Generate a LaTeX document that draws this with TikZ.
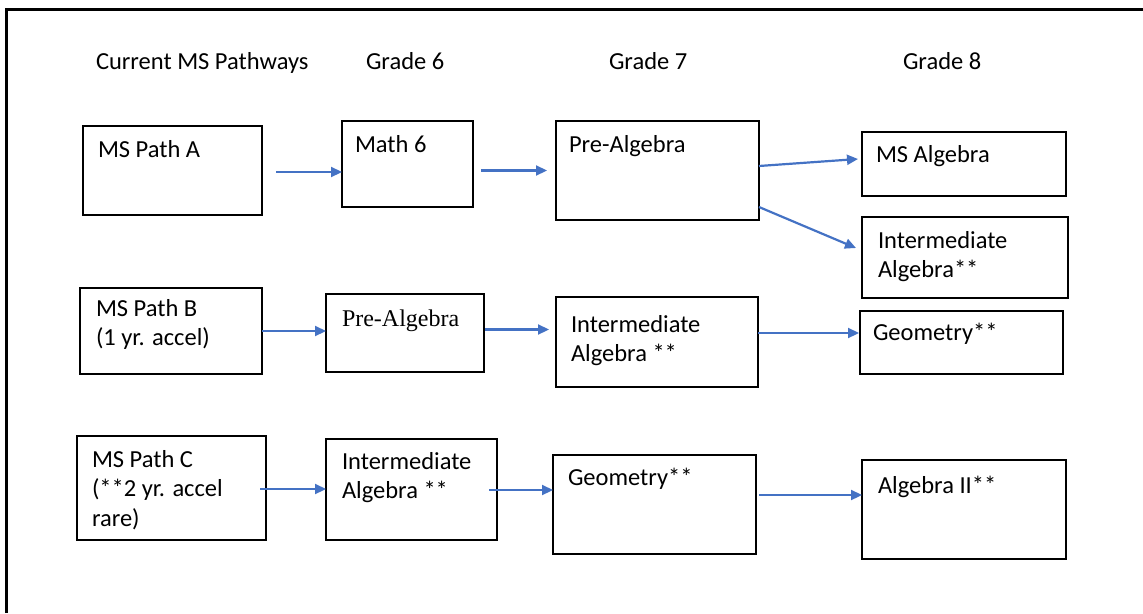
\documentclass[tikz,border=0pt]{standalone}
\usepackage{fontspec}
\setmainfont{Carlito}
\newfontfamily\timesf{Liberation Serif}
\usetikzlibrary{arrows.meta}
\definecolor{arrowblue}{RGB}{68,114,196}
\tikzset{
  box/.style={draw=black, line width=2pt, rectangle, inner sep=0pt, outer sep=0pt},
  txt/.style={anchor=base west, inner sep=0pt, outer sep=0pt, align=left,
    font=\fontsize{24.5}{29.5}\selectfont},
  arr/.style={draw=arrowblue, line width=2.2pt, -{Triangle[length=11pt,width=10pt]}},
  frame/.style={draw=black, line width=3pt}
}
\begin{document}
\begin{tikzpicture}[x=1pt,y=-1pt]
\useasboundingbox (0,0) rectangle (1143,613);
% frame
\coordinate (fb) at (6.5,613);
\coordinate (fc) at (6.5,9.5);
\coordinate (fr) at (1143,9.5);
\draw[frame] (fb) -- (fc) -- (fr);

% headers
\node[txt] (h0) at (96,69) {Current MS Pathways};
\node[txt] (h6) at (366,69) {Grade 6};
\node[txt] (h7) at (609,69) {Grade 7};
\node[txt] (h8) at (903,69) {Grade 8};

% boxes
\node[box, minimum width=179pt, minimum height=89pt] (pa) at (172.5,170.5) {};
\node[box, minimum width=131pt, minimum height=86pt] (m6) at (407.5,164) {};
\node[box, minimum width=203pt, minimum height=99pt] (pre7a) at (657.5,170.5) {};
\node[box, minimum width=204pt, minimum height=64pt] (msalg) at (964,164) {};
\node[box, minimum width=206pt, minimum height=81pt] (int8) at (965,257.5) {};

\node[box, minimum width=182pt, minimum height=86pt] (pb) at (171,331) {};
\node[box, minimum width=158pt, minimum height=78pt] (pre6b) at (405,333) {};
\node[box, minimum width=202pt, minimum height=90pt] (int7b) at (657,342) {};
\node[box, minimum width=203pt, minimum height=63pt] (geo8) at (961.5,342.5) {};

\node[box, minimum width=189pt, minimum height=104pt] (pc) at (171.5,488) {};
\node[box, minimum width=171pt, minimum height=101pt] (int6c) at (411.5,489.5) {};
\node[box, minimum width=203pt, minimum height=99pt] (geo7c) at (654.5,504.5) {};
\node[box, minimum width=204pt, minimum height=99pt] (alg2) at (964,509.5) {};

% texts (multi-line nodes are placed by the baseline of their last line)
\node[txt] (tpa) at (98,157) {MS Path A};
\node[txt] (tm6) at (355,152) {Math 6};
\node[txt] (tpre7a) at (569,152) {Pre-Algebra};
\node[txt] (tmsalg) at (876,162) {MS Algebra};
\node[txt] (tint8) at (878,277.5) {Intermediate\\Algebra**};

\node[txt] (tpb) at (96,345.5) {MS Path B\\(1 yr. accel)};
\node[txt, font=\timesf\fontsize{24}{29.5}\selectfont] (tpre6b) at (342,326) {Pre-Algebra};
\node[txt] (tint7b) at (571,361.5) {Intermediate\\Algebra **};
\node[txt] (tgeo8) at (873,340) {Geometry**};

\node[txt] (tpc) at (92,526) {MS Path C\\(**2 yr. accel\\rare)};
\node[txt] (tint6c) at (342,498.5) {Intermediate\\Algebra **};
\node[txt] (tgeo7c) at (568,485) {Geometry**};
\node[txt] (talg2) at (878,493) {Algebra II**};

% arrows
\draw[arr] ([xshift=14pt,yshift=-1.5pt]pa.east) coordinate (a1) -- (a1 -| m6.west);
\draw[arr] ([xshift=8pt]m6.east |- pre7a.west) -- ([xshift=-9pt]pre7a.west);
\draw[arr] ([yshift=4.5pt]pre7a.east) -- ([xshift=-4pt,yshift=5pt]msalg.west);
\draw[arr] ([yshift=-36.5pt]pre7a.east) -- ([xshift=-6pt,yshift=9.5pt]int8.west);

\draw[arr] (pb.east) -- (pb.east -| pre6b.west);
\draw[arr] ([xshift=1pt,yshift=3.5pt]pre6b.east) coordinate (a6) -- ([xshift=-7pt]a6 -| int7b.west);
\draw[arr] ([yshift=9pt]int7b.east) coordinate (a7) -- ([xshift=-1pt]a7 -| geo8.west);

\draw[arr] ([xshift=-6pt,yshift=-1pt]pc.east) coordinate (a8) -- (a8 -| int6c.west);
\draw[arr] ([xshift=-8pt,yshift=-0.5pt]int6c.east) coordinate (a9) -- (a9 -| geo7c.west);
\draw[arr] ([xshift=3pt,yshift=9.5pt]geo7c.east) coordinate (a10) -- (a10 -| alg2.west);
\end{tikzpicture}
\end{document}
